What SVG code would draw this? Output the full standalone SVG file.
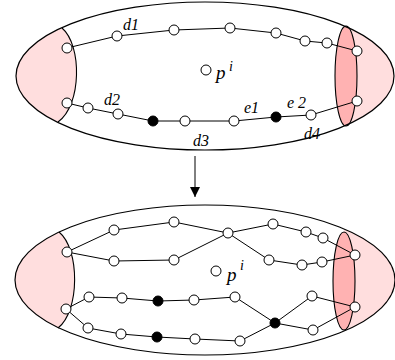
<svg xmlns="http://www.w3.org/2000/svg" width="395" height="360" viewBox="0 0 395 360">
  <style>
    .shell { fill: none; stroke: #000; stroke-width: 1.2; }
    .cap { fill: #ffdede; stroke: none; }
    .ring { fill: #ffb2b2; stroke: #000; stroke-width: 1.1; }
    .rim { fill: none; stroke: #000; stroke-width: 1.1; }
    .edge { fill: none; stroke: #000; stroke-width: 1; }
    .v { fill: #fff; stroke: #000; stroke-width: 1; }
    .vb { fill: #000; stroke: #000; stroke-width: 1; }
    .lbl { font-family: "Liberation Serif", "Times New Roman", serif; font-style: italic; font-size: 16px; fill: #000; }
    .pl { font-family: "Liberation Serif", "Times New Roman", serif; font-style: italic; font-size: 19px; fill: #000; }
    .sup { font-family: "Liberation Serif", "Times New Roman", serif; font-style: italic; font-size: 14px; fill: #000; }
  </style>
  <defs>
    <clipPath id="clipTop"><ellipse cx="205" cy="76" rx="189" ry="74"/></clipPath>
    <clipPath id="clipBot"><ellipse cx="205" cy="280" rx="190" ry="75"/></clipPath>
    <marker id="arrow" viewBox="0 0 10 10" refX="10" refY="5" markerWidth="10" markerHeight="11" markerUnits="userSpaceOnUse" orient="auto">
      <path d="M0,0 L10,5 L0,10 Z" fill="#000"/>
    </marker>
  </defs>

  <!-- upper shell -->
  <g id="shell-top">
    <g clip-path="url(#clipTop)">
      <path class="cap" d="M0,0 L62,0 L62,28 C82,45 82,105 58,122 L58,160 L0,160 Z"/>
      <rect class="cap" x="346" y="0" width="60" height="160"/>
    </g>
    <path class="rim" d="M62,28 C82,45 82,105 58,122"/>
    <ellipse class="ring" cx="346" cy="76" rx="11" ry="50"/>
    <ellipse class="shell" cx="205" cy="76" rx="189" ry="74"/>
  </g>

  <!-- lower shell -->
  <g id="shell-bottom">
    <g clip-path="url(#clipBot)">
      <path class="cap" d="M0,200 L59,200 L59,232 C80,249 80,311 58,328 L58,365 L0,365 Z"/>
      <rect class="cap" x="344" y="200" width="60" height="165"/>
    </g>
    <path class="rim" d="M59,232 C80,249 80,311 58,328"/>
    <ellipse class="ring" cx="344" cy="281" rx="11" ry="49"/>
    <ellipse class="shell" cx="205" cy="280" rx="190" ry="75"/>
  </g>

  <!-- connectors -->
  <g id="connectors">
    <polyline class="edge" points="67,48 117,36 174,30 230,28 276,33 305,41 327,43 357,51"/>
    <polyline class="edge" points="67,103 88,108 118,114 153,121 185,121 234,121 276,117 311,115 357,101"/>

    <polyline class="edge" points="67,252 114,230 174,222 228,233 273,224 306,232 323,238 355,255"/>
    <polyline class="edge" points="67,252 114,261 174,260 228,233 269,260 302,265 322,262 355,255"/>
    <polyline class="edge" points="66,309 89,297 122,298 158,301 194,300 235,297 275,323 312,296 355,307"/>
    <polyline class="edge" points="66,309 88,328 121,334 157,337 195,339 240,341 275,323 313,330 355,307"/>

    <line class="edge" x1="195" y1="156" x2="195" y2="197" marker-end="url(#arrow)"/>
  </g>

  <!-- upper vertices -->
  <g id="nodes-top">
    <circle class="v" cx="67" cy="48" r="5"/>
    <circle class="v" cx="117" cy="36" r="5"/>
    <circle class="v" cx="174" cy="30" r="5"/>
    <circle class="v" cx="230" cy="28" r="5"/>
    <circle class="v" cx="276" cy="33" r="5"/>
    <circle class="v" cx="305" cy="41" r="5"/>
    <circle class="v" cx="327" cy="43" r="5"/>
    <circle class="v" cx="357" cy="51" r="5"/>
    <circle class="v" cx="67" cy="103" r="5"/>
    <circle class="v" cx="88" cy="108" r="5"/>
    <circle class="v" cx="118" cy="114" r="5"/>
    <circle class="vb" cx="153" cy="121" r="5"/>
    <circle class="v" cx="185" cy="121" r="5"/>
    <circle class="v" cx="234" cy="121" r="5"/>
    <circle class="vb" cx="276" cy="117" r="5"/>
    <circle class="v" cx="311" cy="115" r="5"/>
    <circle class="v" cx="357" cy="101" r="5"/>
    <circle class="v" cx="206" cy="70" r="5"/>
  </g>

  <!-- lower vertices -->
  <g id="nodes-bottom">
    <circle class="v" cx="67" cy="252" r="5"/>
    <circle class="v" cx="114" cy="230" r="5"/>
    <circle class="v" cx="174" cy="222" r="5"/>
    <circle class="v" cx="228" cy="233" r="5"/>
    <circle class="v" cx="273" cy="224" r="5"/>
    <circle class="v" cx="306" cy="232" r="5"/>
    <circle class="v" cx="323" cy="238" r="5"/>
    <circle class="v" cx="355" cy="255" r="5"/>
    <circle class="v" cx="114" cy="261" r="5"/>
    <circle class="v" cx="174" cy="260" r="5"/>
    <circle class="v" cx="269" cy="260" r="5"/>
    <circle class="v" cx="302" cy="265" r="5"/>
    <circle class="v" cx="322" cy="262" r="5"/>
    <circle class="v" cx="66" cy="309" r="5"/>
    <circle class="v" cx="89" cy="297" r="5"/>
    <circle class="v" cx="122" cy="298" r="5"/>
    <circle class="vb" cx="158" cy="301" r="5"/>
    <circle class="v" cx="194" cy="300" r="5"/>
    <circle class="v" cx="235" cy="297" r="5"/>
    <circle class="vb" cx="275" cy="323" r="5"/>
    <circle class="v" cx="312" cy="296" r="5"/>
    <circle class="v" cx="355" cy="307" r="5"/>
    <circle class="v" cx="88" cy="328" r="5"/>
    <circle class="v" cx="121" cy="334" r="5"/>
    <circle class="vb" cx="157" cy="337" r="5"/>
    <circle class="v" cx="195" cy="339" r="5"/>
    <circle class="v" cx="240" cy="341" r="5"/>
    <circle class="v" cx="313" cy="330" r="5"/>
    <circle class="v" cx="216" cy="271" r="5"/>
  </g>

  <!-- labels -->
  <g id="labels">
    <text class="lbl" x="123" y="30">d1</text>
    <text class="lbl" x="104" y="105">d2</text>
    <text class="lbl" x="193" y="146">d3</text>
    <text class="lbl" x="304" y="139">d4</text>
    <text class="lbl" x="244" y="113">e1</text>
    <text class="lbl" x="287" y="108">e 2</text>
    <text class="pl" x="216" y="79">p</text>
    <text class="sup" x="229" y="71">i</text>
    <text class="pl" x="227" y="281">p</text>
    <text class="sup" x="240" y="270">i</text>
  </g>
</svg>
